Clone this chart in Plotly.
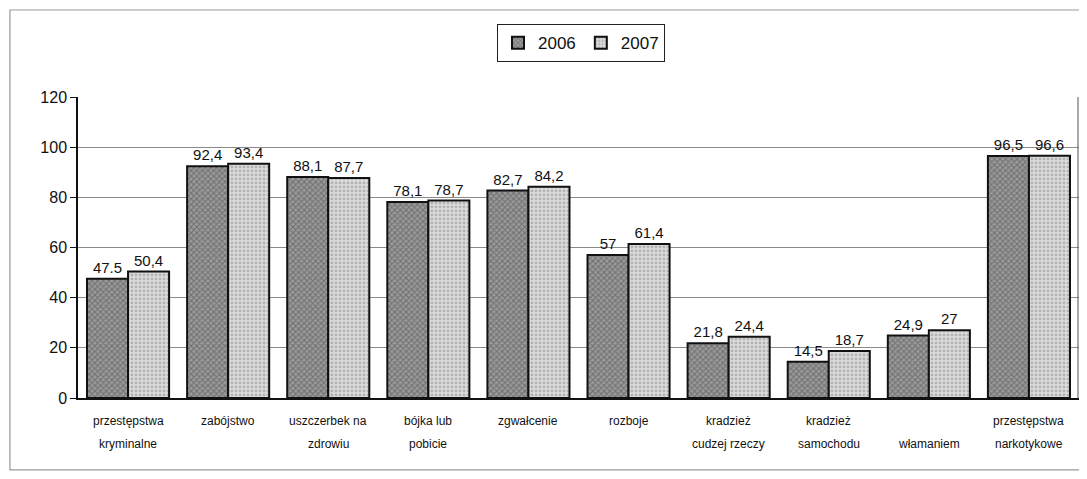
import plotly.graph_objects as go

categories = ["przestępstwa kryminalne", "zabójstwo", "uszczerbek na zdrowiu", "bójka lub pobicie",
              "zgwałcenie", "rozboje", "kradzież cudzej rzeczy", "kradzież samochodu",
              "włamaniem", "przestępstwa narkotykowe"]
label_line1 = ["przestępstwa", "zabójstwo", "uszczerbek na", "bójka lub", "zgwałcenie",
               "rozboje", "kradzież", "kradzież", "", "przestępstwa"]
label_line2 = ["kryminalne", "", "zdrowiu", "pobicie", "", "", "cudzej rzeczy", "samochodu",
               "włamaniem", "narkotykowe"]
values_2006 = [47.5, 92.4, 88.1, 78.1, 82.7, 57, 21.8, 14.5, 24.9, 96.5]
values_2007 = [50.4, 93.4, 87.7, 78.7, 84.2, 61.4, 24.4, 18.7, 27, 96.6]
text_2006 = ["47.5", "92,4", "88,1", "78,1", "82,7", "57", "21,8", "14,5", "24,9", "96,5"]
text_2007 = ["50,4", "93,4", "87,7", "78,7", "84,2", "61,4", "24,4", "18,7", "27", "96,6"]
y_ticks = [0, 20, 40, 60, 80, 100, 120]

fig = go.Figure()
fig.add_trace(go.Bar(
    name="2006", x=categories, y=values_2006, text=text_2006,
    textposition="outside", cliponaxis=False,
    textfont=dict(size=15, color="#111", family="Liberation Sans, Arial"),
    marker=dict(color="#9a9a9a", line=dict(color="#111", width=2),
                pattern=dict(shape="x", fgcolor="#444", size=4, solidity=0.45)),
))
fig.add_trace(go.Bar(
    name="2007", x=categories, y=values_2007, text=text_2007,
    textposition="outside", cliponaxis=False,
    textfont=dict(size=15, color="#111", family="Liberation Sans, Arial"),
    marker=dict(color="#dcdcdc", line=dict(color="#111", width=2),
                pattern=dict(shape=".", fgcolor="#8a8a8a", size=4, solidity=0.4)),
))

annotations = []
for c, l1, l2 in zip(categories, label_line1, label_line2):
    if l1:
        annotations.append(dict(x=c, xref="x", y=-0.076, yref="paper", text=l1, showarrow=False,
                                yanchor="middle", font=dict(size=12, color="#111",
                                family="Liberation Sans Narrow, Liberation Sans, Arial")))
    if l2:
        annotations.append(dict(x=c, xref="x", y=-0.153, yref="paper", text=l2, showarrow=False,
                                yanchor="middle", font=dict(size=12, color="#111",
                                family="Liberation Sans Narrow, Liberation Sans, Arial")))

fig.update_layout(
    width=1071, height=463,
    margin=dict(l=70, r=0, t=89, b=73),
    paper_bgcolor="white", plot_bgcolor="white",
    barmode="group", bargap=0.18, bargroupgap=0.0,
    font=dict(family="Liberation Sans, Arial", color="#111"),
    showlegend=True,
    legend=dict(orientation="h", x=0.5025, xanchor="center", y=1.179, yanchor="middle",
                bordercolor="#222", borderwidth=1, bgcolor="white",
                font=dict(size=17, color="#111"), itemsizing="constant",
                itemwidth=30, tracegroupgap=0),
    xaxis=dict(showticklabels=False, showline=True, linecolor="#111", linewidth=1.5,
               ticks="", showgrid=False),
    yaxis=dict(range=[0, 120], tickvals=y_ticks, showgrid=True, gridcolor="#8a8a8a",
               gridwidth=1, showline=True, linecolor="#111", linewidth=1.5,
               ticks="outside", ticklen=6, tickcolor="#111",
               tickfont=dict(size=16, color="#111"), zeroline=False),
    annotations=annotations,
    shapes=[
        dict(type="rect", xref="paper", yref="paper", x0=-0.068, x1=1.01, y0=-0.239, y1=1.289,
             line=dict(color="#999", width=1.2)),
        dict(type="line", xref="paper", yref="paper", x0=0.999, x1=0.999, y0=0, y1=1,
             line=dict(color="#555", width=1)),
    ],
)

fig.write_html("out.html")
